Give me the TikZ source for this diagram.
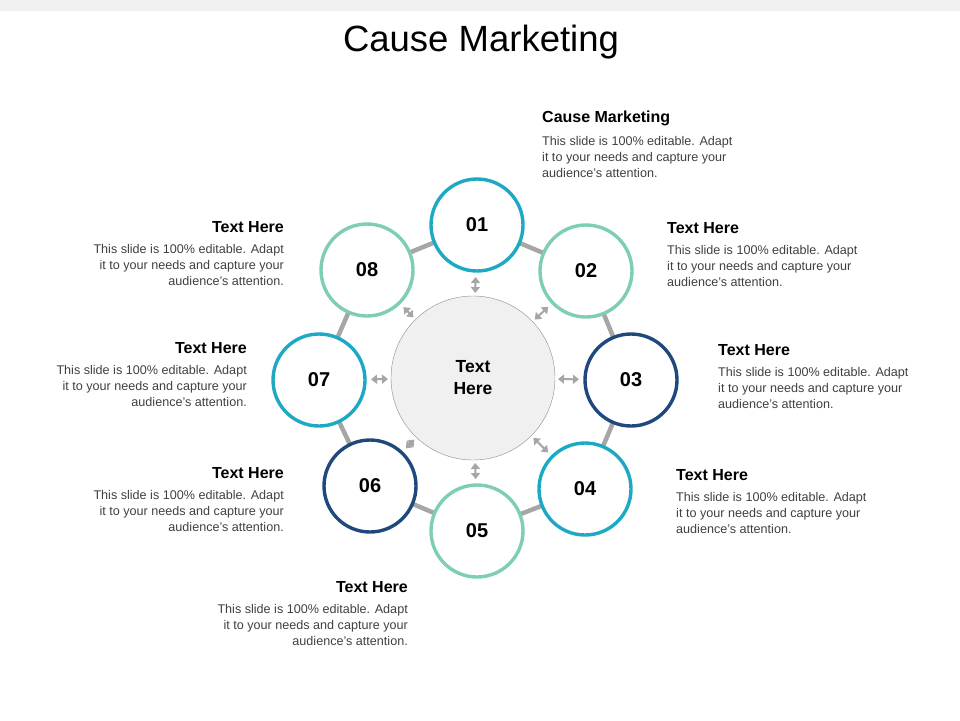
\documentclass[tikz,border=0pt]{standalone}
\usepackage{fontspec}
\setmainfont{Liberation Sans}
\usetikzlibrary{arrows.meta, calc}
\definecolor{cteal}{HTML}{1DA9C3}
\definecolor{cmint}{HTML}{7ECDB5}
\definecolor{cnavy}{HTML}{1F497D}
\definecolor{cring}{HTML}{A6A6A6}
\tikzset{
  stepcircle/.style={circle, draw=#1, line width=3.4pt, fill=white, minimum size=92pt, font=\bfseries\fontsize{20}{20}\selectfont},
  headtext/.style={font=\bfseries\fontsize{16}{18}\selectfont, inner sep=0pt},
  bodytext/.style={font=\fontsize{12.6}{16}\selectfont, text=black!75, inner sep=0pt},
  linkarrow/.style={{Triangle[length=6pt,width=9pt]}-{Triangle[length=6pt,width=9pt]}, cring, line width=2pt}
}
\begin{document}
\begin{tikzpicture}[x=1pt, y=-1pt]
\useasboundingbox (0,0) rectangle (960,720);
\fill[black!6] (0,0) rectangle (960,11);
\node[font=\fontsize{36.5}{36.5}\selectfont] (title) at (481,42) {Cause Marketing};

% ring
\draw[cring, line width=4.5pt] (477,225) -- (586,271) -- (631,380) -- (585,489) -- (477,531) -- (370,486) -- (319,380) -- (367,270) -- cycle;

% centre
\node[circle, draw=black!45, fill=black!6, minimum size=164pt, align=center,
  font=\bfseries\fontsize{17.5}{22}\selectfont] (hub) at (473,378) {Text\\Here};

\node[stepcircle=cteal] (s1) at (477,225) {01};
\node[stepcircle=cmint] (s2) at (586,271) {02};
\node[stepcircle=cnavy] (s3) at (631,380) {03};
\node[stepcircle=cteal] (s4) at (585,489) {04};
\node[stepcircle=cmint] (s5) at (477,531) {05};
\node[stepcircle=cnavy] (s6) at (370,486) {06};
\node[stepcircle=cteal] (s7) at (319,380) {07};
\node[stepcircle=cmint] (s8) at (367,270) {08};

\foreach \s in {s1,s2,s3,s4,s5,s6,s7,s8}
  \draw[linkarrow] ($(hub.center)!85pt!(\s)$) -- ($(\s)!52pt!(hub.center)$);

% text blocks
\node[headtext, anchor=west] (h1) at (542,118) {Cause Marketing};
\node[bodytext, anchor=north west, align=left] (b1) at (542,136) {This slide is 100\% editable. Adapt\\it to your needs and capture your\\audience's attention.};
\node[headtext, anchor=west] (h2) at (667,228) {Text Here};
\node[bodytext, anchor=north west, align=left] (b2) at (667,245) {This slide is 100\% editable. Adapt\\it to your needs and capture your\\audience's attention.};
\node[headtext, anchor=west] (h3) at (718,350) {Text Here};
\node[bodytext, anchor=north west, align=left] (b3) at (718,367) {This slide is 100\% editable. Adapt\\it to your needs and capture your\\audience's attention.};
\node[headtext, anchor=west] (h4) at (676,475) {Text Here};
\node[bodytext, anchor=north west, align=left] (b4) at (676,492) {This slide is 100\% editable. Adapt\\it to your needs and capture your\\audience's attention.};
\node[headtext, anchor=east] (h5) at (408,587) {Text Here};
\node[bodytext, anchor=north east, align=right] (b5) at (408,604) {This slide is 100\% editable. Adapt\\it to your needs and capture your\\audience's attention.};
\node[headtext, anchor=east] (h6) at (284,473) {Text Here};
\node[bodytext, anchor=north east, align=right] (b6) at (284,490) {This slide is 100\% editable. Adapt\\it to your needs and capture your\\audience's attention.};
\node[headtext, anchor=east] (h7) at (247,348) {Text Here};
\node[bodytext, anchor=north east, align=right] (b7) at (247,365) {This slide is 100\% editable. Adapt\\it to your needs and capture your\\audience's attention.};
\node[headtext, anchor=east] (h8) at (284,227) {Text Here};
\node[bodytext, anchor=north east, align=right] (b8) at (284,244) {This slide is 100\% editable. Adapt\\it to your needs and capture your\\audience's attention.};
\end{tikzpicture}
\end{document}
